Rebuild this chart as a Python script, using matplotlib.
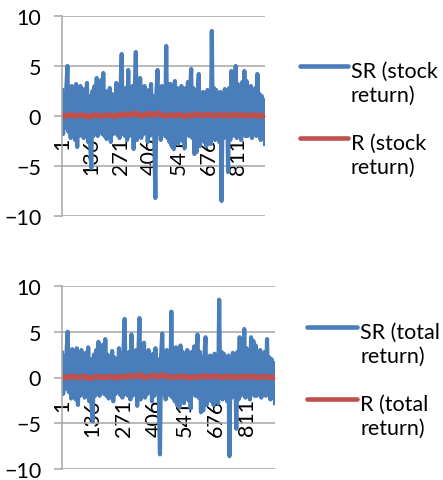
import matplotlib
matplotlib.use('Agg')
import matplotlib.pyplot as plt
import numpy as np
from matplotlib.lines import Line2D

plt.rcParams['font.family'] = ['Lato', 'DejaVu Sans']

# daily values, one reading every 5 days (SR) / 20 days (R)
sr_stock = [
    2.6, -1.8, 2.2, -1.2, 2.8, 5.0, -1.6, 2.4, -2.2, 3.0,
    -1.5, 2.9, -2.4, 3.2, -3.1, 2.6, -2.0, 3.0, -1.4, 2.3,
    -2.2, 2.7, -1.8, 3.3, -2.6, 2.0, -3.0, -5.2, 2.5, -2.0,
    3.0, -1.6, 3.8, -2.0, 2.4, -1.2, 3.6, -1.8, 4.3, -2.0,
    2.5, -2.3, 1.8, -1.5, 2.8, -2.6, 2.2, -1.8, 2.0, -1.4,
    3.3, -1.9, 2.6, -2.2, 3.0, 6.2, -1.8, 2.4, -2.0, 2.8,
    -2.4, 4.6, -2.0, 2.7, -1.6, 3.0, -3.3, 2.2, 6.4, -2.4,
    2.9, -1.6, 3.8, -2.2, 2.4, -1.8, 3.0, -1.4, 2.2, -2.6,
    2.6, -2.0, 3.2, -1.4, 2.0, -2.2, -8.2, 2.4, 4.6, -1.8,
    2.8, -2.4, 3.0, -1.8, 2.6, -2.0, 7.0, -2.2, 3.2, -2.6,
    3.2, -3.0, 2.6, -3.3, 3.5, -2.0, 2.8, -2.8, 2.2, -1.6,
    3.0, -2.5, 2.4, -3.2, 2.8, -1.8, 3.4, -2.0, 2.6, 4.7,
    -2.2, 2.8, -3.8, 2.2, -3.6, 2.4, 4.2, -3.0, 2.0, -2.4,
    2.4, -2.6, 2.0, -3.0, 2.6, -2.2, 2.2, -2.8, 8.5, -2.0,
    2.8, -2.4, 2.6, -1.8, 2.2, -2.6, 2.4, -8.5, 2.0, -2.2,
    2.7, -2.0, 2.4, -5.6, 2.8, -2.4, 4.5, -2.0, 3.0, -1.8,
    5.0, -2.2, 3.2, -1.6, 2.8, -2.4, 3.4, -1.8, 4.5, -2.0,
    3.5, -2.0, 2.6, -1.4, 3.0, -2.2, 2.4, -1.6, 2.8, -2.0,
    4.2, -1.8, 2.2, -2.4, 2.0, -1.2, 1.6, -2.8,
]
r_stock = [
    0.1, -0.05, 0.15, 0.0, 0.05, 0.1, -0.1, 0.05, 0.1, 0.0,
    0.05, 0.1, -0.05, 0.15, 0.05, 0.2, 0.1, 0.3, 0.0, 0.1,
    0.25, 0.05, 0.3, 0.1, 0.0, 0.1, 0.05, 0.15, -0.05, 0.1,
    0.0, 0.2, 0.05, 0.1, 0.15, 0.0, 0.1, 0.05, 0.1, 0.0,
    0.15, 0.05, 0.1, 0.0, 0.1, 0.05, 0.0, 0.1,
]
sr_total = [
    2.7, -1.8, 2.3, -1.2, 2.8, 5.0, -1.6, 2.4, -2.3, 3.1,
    -1.5, 2.9, -2.4, 3.2, -3.0, 2.6, -2.0, 3.0, -1.4, 2.4,
    -2.2, 2.7, -1.8, 3.3, -2.6, 2.0, -3.0, -4.8, 2.5, -2.0,
    3.0, -1.6, 3.9, -2.0, 2.4, -1.2, 3.6, -1.8, 4.2, -2.0,
    2.5, -2.3, 1.8, -1.5, 2.9, -2.6, 2.2, -1.8, 2.0, -1.4,
    3.2, -1.9, 2.6, -2.2, 3.0, 6.4, -1.8, 2.4, -2.0, 2.8,
    -2.4, 4.7, -2.0, 2.7, -1.6, 3.0, -3.1, 2.2, 6.5, -2.4,
    2.9, -1.6, 3.8, -2.2, 2.4, -1.8, 3.0, -1.4, 2.2, -2.6,
    2.6, -2.0, 3.2, -1.4, 2.0, -2.2, -8.4, 2.4, 4.8, -1.8,
    2.8, -2.4, 3.0, -1.8, 2.6, -2.0, 7.2, -2.2, 3.2, -2.6,
    3.3, -3.0, 2.6, -3.3, 3.5, -2.0, 2.8, -2.8, 2.2, -1.6,
    3.0, -2.5, 2.4, -3.4, 2.8, -1.8, 3.4, -2.0, 2.6, 4.7,
    -2.2, 2.8, -3.8, 2.2, -3.6, 2.4, 4.4, -3.0, 2.0, -2.4,
    2.4, -2.6, 2.0, -3.0, 2.6, -2.2, 2.2, -2.8, 8.5, -2.0,
    2.8, -2.4, 2.6, -1.8, 2.2, -2.6, 2.4, -8.6, 2.0, -2.2,
    2.7, -2.0, 2.4, -5.6, 2.8, -2.4, 4.4, -2.0, 3.0, -1.8,
    5.3, -2.2, 3.2, -1.6, 2.8, -2.4, 4.4, -1.8, 4.0, -2.0,
    3.5, -2.0, 2.6, -1.4, 3.0, -2.2, 2.4, -1.6, 2.8, -2.0,
    4.2, -1.8, 2.2, -2.4, 2.0, -1.2, 1.6, -2.8,
]
r_total = [
    0.1, -0.05, 0.15, 0.0, 0.05, 0.1, -0.1, 0.05, 0.1, 0.0,
    0.05, 0.1, -0.05, 0.15, 0.05, 0.2, 0.1, 0.3, 0.0, 0.1,
    0.25, 0.05, 0.3, 0.1, 0.0, 0.1, 0.05, 0.15, -0.05, 0.1,
    0.0, 0.2, 0.05, 0.1, 0.15, 0.0, 0.1, 0.05, 0.1, 0.0,
    0.15, 0.05, 0.1, 0.0, 0.1, 0.05, 0.0, 0.1,
]
tick_labels = ['1', '136', '271', '406', '541', '676', '811']
legend_stock = ['SR (stock\nreturn)', 'R (stock\nreturn)']
legend_total = ['SR (total\nreturn)', 'R (total\nreturn)']

BLUE = '#4a7ebb'
RED = '#c0504d'
GRID = '#a6a6a6'
FS = 15.5
W, H = 443, 481


def days(values, step):
    return np.arange(len(values)) * step + 1


def draw_panel(ax, sr, r):
    ax.plot(days(sr, 5), sr, color=BLUE, lw=3.0, solid_joinstyle='round')
    ax.plot(days(r, 20), r, color=RED, lw=4.0, solid_joinstyle='round')
    ax.set_xlim(1, 936)
    ax.set_ylim(-10, 10)
    ax.set_yticks([-10, -5, 0, 5, 10])
    ax.yaxis.grid(True, color=GRID, lw=1.1)
    ax.set_axisbelow(True)
    for s in ['top', 'right']:
        ax.spines[s].set_visible(False)
    ax.spines['left'].set_color(GRID)
    ax.spines['left'].set_linewidth(1.1)
    ax.spines['bottom'].set_position(('data', 0))
    ax.spines['bottom'].set_color(GRID)
    ax.spines['bottom'].set_zorder(0.5)
    ax.set_xticks([int(t) for t in tick_labels])
    ax.set_xticklabels(tick_labels, rotation=90, va='top')
    ax.tick_params(axis='x', length=0, pad=15, labelsize=FS)
    ax.tick_params(axis='y', length=6, width=1.1, color=GRID, pad=9, labelsize=FS)


def draw_legend(fig, x0, x1, ys, labels):
    for y, col, lab in zip(ys, [BLUE, RED], labels):
        fig.add_artist(Line2D([x0 / W, x1 / W], [1 - y / H, 1 - y / H], color=col,
                              lw=3.3, solid_capstyle='round'))
        # baseline of the second text line
        fig.text((x1 + 3) / W, 1 - (y + 35) / H, lab, fontsize=FS,
                 va='baseline', ha='left', linespacing=1.25)


fig = plt.figure(figsize=(W / 100, H / 100), dpi=100)
ax1 = fig.add_axes([62 / W, 1 - 217 / H, 203 / W, 200 / H])
ax2 = fig.add_axes([62 / W, 1 - 470 / H, 213 / W, 183 / H])
draw_panel(ax1, sr_stock, r_stock)
draw_panel(ax2, sr_total, r_total)
draw_legend(fig, 300, 348, [67, 139], legend_stock)
draw_legend(fig, 307, 357, [328, 400], legend_total)

fig.savefig('out.png', dpi=100)
